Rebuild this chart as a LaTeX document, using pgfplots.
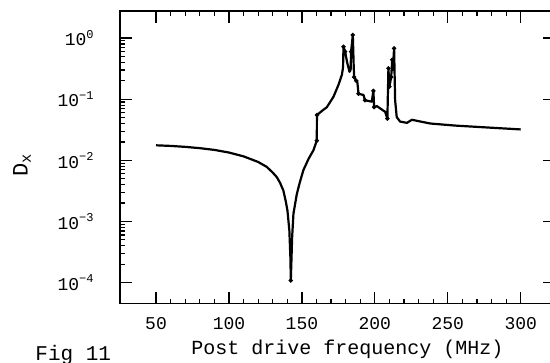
\documentclass[border=0pt]{standalone}
\usepackage{fontspec}
\setmainfont{Liberation Mono}
\usepackage{pgfplots}
\pgfplotsset{compat=1.18}
\begin{document}
\begin{tikzpicture}
\begin{axis}[
  scale only axis, width=217.5pt, height=146.3pt,
  ymode=log, xmin=25.3, xmax=323.5, ymin=4.53e-5, ymax=2.77,
  xtick={50,100,150,200,250,300}, minor x tick num=4,
  ytick={1e-4,1e-3,1e-2,1e-1,1},
  yticklabels={10\textsuperscript{−4},10\textsuperscript{−3},10\textsuperscript{−2},10\textsuperscript{−1},10\textsuperscript{0}},
  /pgf/number format/assume math mode=true,
  tick label style={font=\fontsize{9}{11}\selectfont},
  xticklabel style={inner sep=0pt, yshift=-6.5pt},
  yticklabel style={inner sep=0pt, xshift=-12.5pt},
  major tick length=6pt, minor tick length=2.5pt,
  axis line style={line width=0.8pt},
  every tick/.style={black, line width=0.6pt},
  xlabel={Post drive frequency (MHz)},
  xlabel style={at={(axis description cs:0.523,0)}, anchor=base, yshift=-25.5pt, font=\fontsize{10}{12}\selectfont},
  ylabel={D\textsubscript{x}},
  ylabel style={at={(axis description cs:-0.2253,0.473)}, anchor=center, font=\fontsize{11}{13}\selectfont},
]
\addplot[black, line width=1.1pt, line join=round] coordinates {
(50,0.0176) (60,0.0172) (70,0.0166) (80,0.0158) (90,0.0148) (100,0.0134)
(110,0.0116) (120,0.0094) (125.9,0.0078) (130,0.0063) (132.8,0.0053) (135,0.0043)
(137.3,0.0032) (139,0.0021) (140.1,0.0015) (141.4,0.00071) (142.1,0.00026)
(142.4,0.000108) (143.3,0.00055) (144.2,0.00134) (146.5,0.0028) (148.5,0.0043)
(151,0.0069) (154.5,0.0105) (157.9,0.0146) (160.2,0.021) (160.3,0.055)
(164,0.065) (167.1,0.074) (171.6,0.109) (175,0.17) (177.4,0.25) (178.2,0.33)
(178.5,0.72) (179.6,0.60) (181,0.40) (182.6,0.28) (183.4,0.30) (183.7,0.60)
(184.9,1.12) (185.5,0.35) (185.8,0.23) (187.2,0.20) (188,0.19) (188.8,0.123)
(192.2,0.117) (193.3,0.096) (197.9,0.091) (199,0.137) (199.5,0.074)
(201.4,0.077) (207.1,0.062) (208.6,0.048) (209.3,0.32) (210,0.16)
(211.2,0.23) (211.9,0.44) (212.3,0.30) (213.2,0.68) (213.9,0.096)
(215,0.051) (217.3,0.043) (222,0.041) (225.4,0.046) (238,0.040)
(255,0.037) (272,0.035) (300,0.032)
};
\addplot[only marks, black, mark=*, mark size=0.9pt] coordinates {
(142.4,0.000108) (160.2,0.021) (160.3,0.055)
(178.5,0.72) (179.6,0.60) (183.7,0.60) (184.9,1.12) (185.8,0.23)
(187.2,0.20) (188.8,0.123) (193.3,0.096) (199,0.137) (199.5,0.074)
(208.6,0.048) (209.3,0.32) (210,0.16) (211.2,0.23) (211.9,0.44) (213.2,0.68)
};
\end{axis}
\node[anchor=north west, inner sep=0pt, font=\fontsize{10.5}{12}\selectfont] at ([xshift=-42.5pt,yshift=-20.5pt]current axis.south west) {Fig 11};
\pgfresetboundingbox
\path ([xshift=-60pt,yshift=-29.5pt]current axis.south west) rectangle ([xshift=-2.5pt,yshift=5.5pt]current axis.north east);
\end{tikzpicture}
\end{document}
